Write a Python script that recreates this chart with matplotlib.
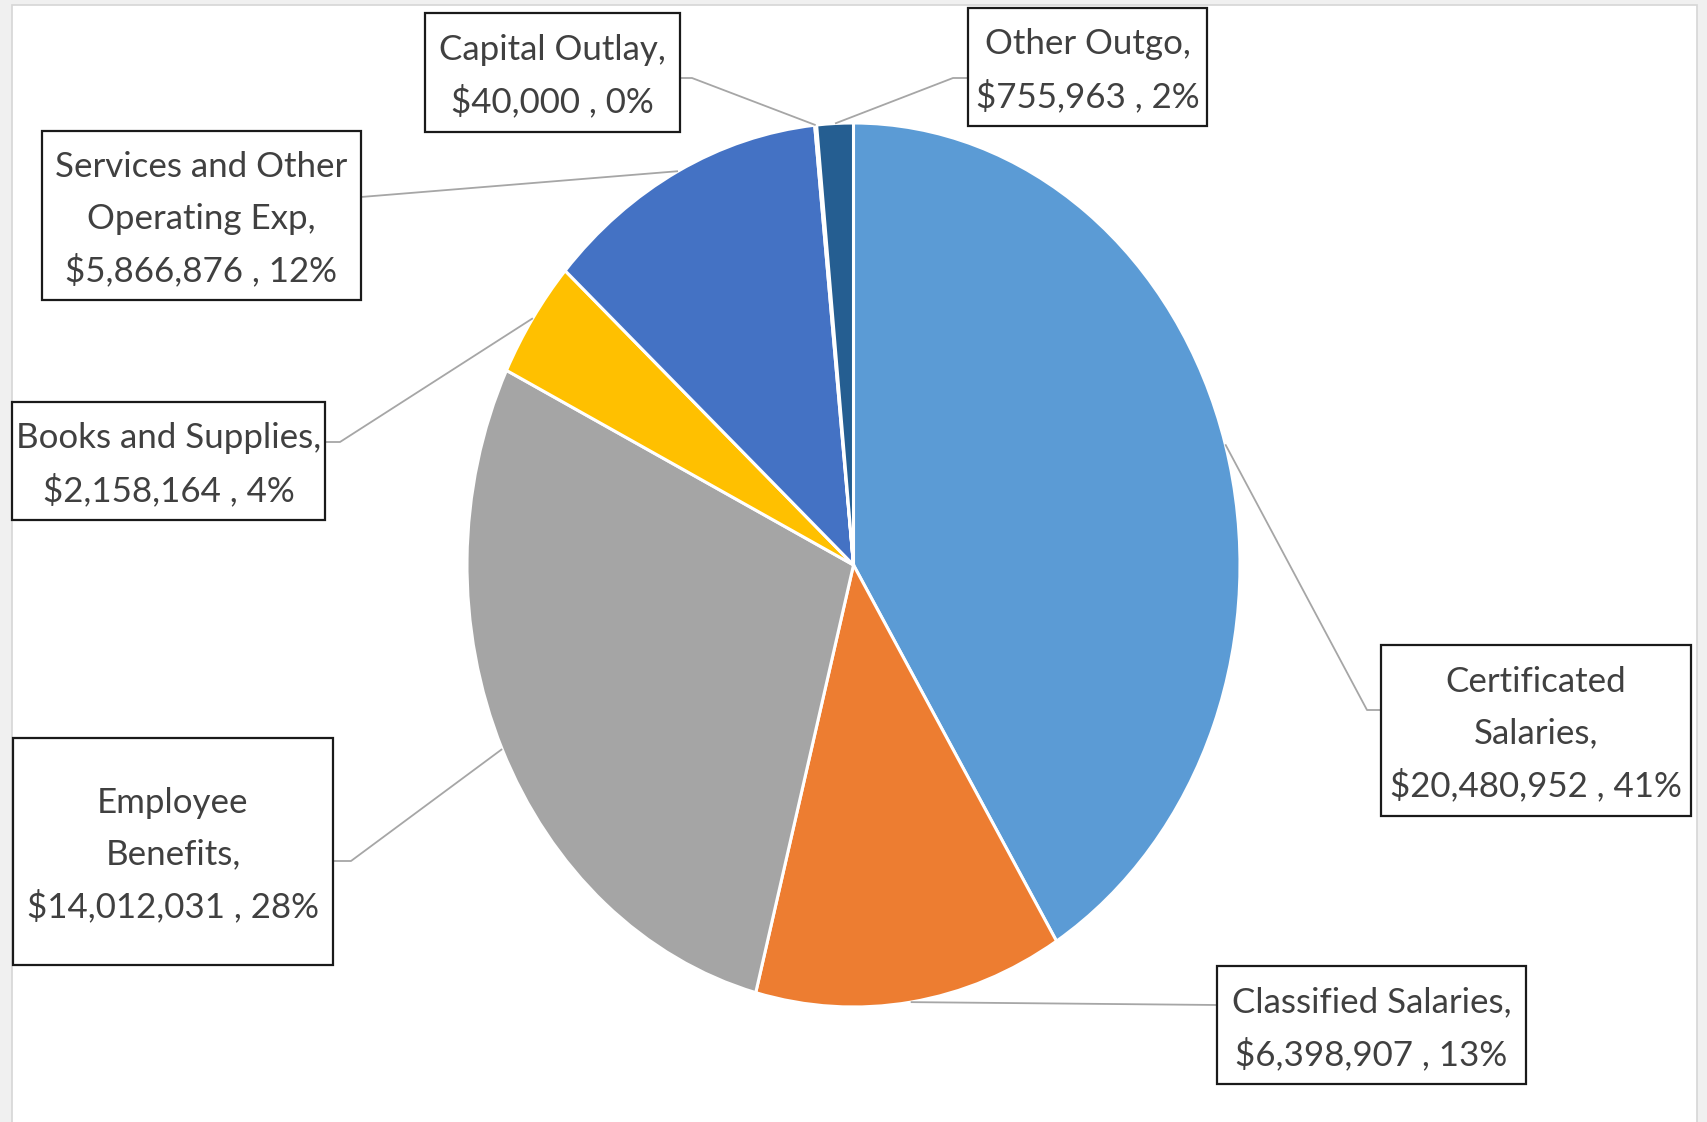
import numpy as np
import matplotlib
matplotlib.use("Agg")
import matplotlib.pyplot as plt
from matplotlib.patches import Rectangle

# ---------------- data ----------------
categories = ["Certificated Salaries", "Classified Salaries", "Employee Benefits",
              "Books and Supplies", "Services and Other Operating Exp",
              "Capital Outlay", "Other Outgo"]
name_lines = [["Certificated", "Salaries,"], ["Classified Salaries,"],
              ["Employee", "Benefits,"], ["Books and Supplies,"],
              ["Services and Other", "Operating Exp,"], ["Capital Outlay,"],
              ["Other Outgo,"]]
values = [20480952, 6398907, 14012031, 2158164, 5866876, 40000, 755963]
colors = ["#5B9BD5", "#ED7D31", "#A5A5A5", "#FFC000", "#4472C4", "#70AD47", "#255E91"]

# ---------------- layout (pixels) ----------------
W, H = 1708, 1122
cx, cy, rx, ry = 853.5, 565.0, 386.5, 442.0
# label boxes: x0, y0, x1, y1
boxes = [(1381, 645, 1691, 816), (1217, 966, 1526, 1084), (13, 738, 333, 965),
         (12, 402, 325, 520), (42, 131, 361, 300), (425, 13, 680, 132),
         (968, 8, 1207, 126)]
# leader line: box anchor and elbow
anchors = [(1381, 710), (1217, 1005), (333, 861), (325, 442), (361, 197),
           (680, 78), (968, 78)]
elbows = [(1367, 710), (1217, 1005), (351, 861), (340, 442), (361, 197),
          (692, 78), (953, 78)]
line_pitch = 52
txt_color = "#404040"

plt.rcParams["font.family"] = ["Lato", "DejaVu Sans"]

fig = plt.figure(figsize=(W / 100, H / 100), dpi=100, facecolor="#f0f0f0")

# background axes
bg = fig.add_axes([0, 0, 1, 1], zorder=0)
bg.set_xlim(0, W); bg.set_ylim(H, 0); bg.axis("off")
bg.add_patch(Rectangle((12, 5), 1685, 1130, facecolor="white", edgecolor="#d6d6d6", lw=1.2))

# pie axes (elliptical)
m = 1.02
pax = fig.add_axes([(cx - rx * m) / W, 1 - (cy + ry * m) / H, 2 * rx * m / W, 2 * ry * m / H], zorder=1)
pax.pie(values, colors=colors, startangle=90, counterclock=False, radius=1,
        wedgeprops=dict(edgecolor="white", linewidth=2.2))
pax.set_aspect("auto")
pax.set_xlim(-m, m); pax.set_ylim(-m, m)
pax.axis("off")

# label axes
lax = fig.add_axes([0, 0, 1, 1], zorder=2)
lax.set_xlim(0, W); lax.set_ylim(H, 0); lax.axis("off")
lax.patch.set_alpha(0)

# fit the font size so a reference line has the width seen in the chart
renderer = fig.canvas.get_renderer()
probe = lax.text(0, 0, "Services and Other", fontsize=10)
pw = probe.get_window_extent(renderer).width
probe.remove()
fs = 10.0 * 292.0 / pw

total = float(sum(values))
cum = np.cumsum(values)
for i, v in enumerate(values):
    mid_cw = 360.0 * (cum[i] - v / 2.0) / total
    ang = np.deg2rad(90.0 - mid_cw)
    px, py = cx + rx * np.cos(ang), cy - ry * np.sin(ang)
    ax_, ay_ = anchors[i]
    ex, ey = elbows[i]
    lax.plot([ax_, ex, px], [ay_, ey, py], color="#a6a6a6", lw=1.3, solid_capstyle="butt")

    x0, y0, x1, y1 = boxes[i]
    lax.add_patch(Rectangle((x0, y0), x1 - x0, y1 - y0, facecolor="white",
                            edgecolor="#1a1a1a", lw=1.6, zorder=3))
    pct = 100.0 * v / total
    lines = name_lines[i] + [f"${v:,} , {pct:.0f}%"]
    n = len(lines)
    ymid = (y0 + y1) / 2.0
    for k, t in enumerate(lines):
        yy = ymid + (k - (n - 1) / 2.0) * line_pitch
        lax.text((x0 + x1) / 2.0, yy, t, ha="center", va="center_baseline",
                 fontsize=fs, color=txt_color, zorder=4)

fig.savefig("out.png", dpi=100, facecolor=fig.get_facecolor())
